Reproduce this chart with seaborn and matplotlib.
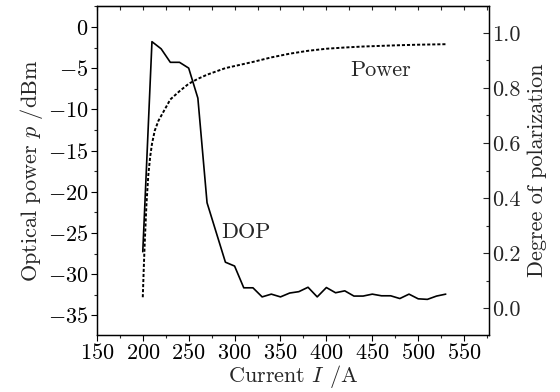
import numpy as np
import pandas as pd
import matplotlib
matplotlib.use("Agg")
import matplotlib.pyplot as plt
import seaborn as sns
from matplotlib.ticker import MultipleLocator

# Degree of polarization (right axis), current in A
dop_current = [200, 210, 220, 230, 240, 250, 260, 270, 280, 290, 300, 310, 320, 330,
               340, 350, 360, 370, 380, 390, 400, 410, 420, 430, 440, 450, 460, 470,
               480, 490, 500, 510, 520, 530]
dop_values = [0.205, 0.968, 0.942, 0.893, 0.893, 0.872, 0.763, 0.383, 0.275, 0.167,
              0.153, 0.074, 0.074, 0.041, 0.051, 0.041, 0.055, 0.060, 0.076, 0.041,
              0.075, 0.056, 0.063, 0.044, 0.044, 0.051, 0.045, 0.045, 0.035, 0.051,
              0.034, 0.032, 0.044, 0.051]

# Optical power (left axis), dBm
power_current = [200, 201, 202, 204, 206, 208, 210, 213, 217, 222, 230, 240, 250, 260,
                 270, 280, 290, 300, 310, 320, 340, 360, 380, 400, 420, 440, 460, 480,
                 500, 530]
power_values = [-32.8, -29.5, -26.5, -21.5, -18.0, -15.8, -14.2, -12.6, -11.4, -10.4,
                -8.8, -7.8, -6.9, -6.3, -5.8, -5.4, -5.0, -4.75, -4.5, -4.25, -3.7,
                -3.25, -2.9, -2.65, -2.5, -2.38, -2.3, -2.22, -2.16, -2.1]

x_ticks = [150, 200, 250, 300, 350, 400, 450, 500, 550]
left_ticks = [0, -5, -10, -15, -20, -25, -30, -35]
right_ticks = [0.0, 0.2, 0.4, 0.6, 0.8, 1.0]

sns.set_style("ticks")
plt.rcParams["font.family"] = ["cmr10", "DejaVu Serif"]
plt.rcParams["mathtext.fontset"] = "cm"
plt.rcParams["axes.formatter.use_mathtext"] = True
plt.rcParams["axes.unicode_minus"] = True
fs = 16

fig = plt.figure(figsize=(5.6, 3.92), dpi=100)
ax = fig.add_axes([0.173, 0.145, 0.700, 0.840])
ax2 = ax.twinx()

power_df = pd.DataFrame({"current": power_current, "power": power_values})
dop_df = pd.DataFrame({"current": dop_current, "dop": dop_values})

sns.lineplot(data=power_df, x="current", y="power", ax=ax, color="black",
             linewidth=1.4, linestyle=(0, (1.6, 1.0)))
sns.lineplot(data=dop_df, x="current", y="dop", ax=ax2, color="black", linewidth=1.2)

ax.set_xlim(150, 577)
ax.set_ylim(-37.4, 2.55)
ax2.set_ylim(-0.098, 1.098)

ax.set_xticks(x_ticks)
ax.set_yticks(left_ticks)
ax2.set_yticks(right_ticks)
ax.xaxis.set_minor_locator(MultipleLocator(25))
ax.yaxis.set_minor_locator(MultipleLocator(2.5))
ax2.yaxis.set_minor_locator(MultipleLocator(0.1))
ax2.set_yticklabels([f"{v:.1f}" for v in right_ticks])

ax.tick_params(axis="both", which="major", direction="out", length=4, width=0.8,
               labelsize=fs, pad=2, colors="black")
ax.tick_params(axis="both", which="minor", direction="out", length=2.5, width=0.8)
ax2.tick_params(axis="y", which="major", direction="in", length=4, width=0.8,
                labelsize=fs, pad=2)
ax2.tick_params(axis="y", which="minor", direction="in", length=2.5, width=0.8)

# top ticks point inward
top = ax.secondary_xaxis("top")
top.set_xticks(x_ticks)
top.xaxis.set_minor_locator(MultipleLocator(25))
top.tick_params(axis="x", which="both", direction="in", length=3, width=0.8,
                labeltop=False)

for a in (ax, ax2):
    for s in a.spines.values():
        s.set_visible(True)
        s.set_linewidth(0.9)
        s.set_color("black")

ax.set_xlabel("Current $I$ /A", fontsize=fs, labelpad=0)
ax.set_ylabel("Optical power $p$ /dBm", fontsize=fs, labelpad=2)
ax2.set_ylabel("Degree of polarization", fontsize=fs, labelpad=5)

ax.text(459, -5.3, "Power", fontsize=fs, ha="center", va="center")
ax2.text(312, 0.275, "DOP", fontsize=fs, ha="center", va="center")

fig.savefig("out.png", dpi=100)
